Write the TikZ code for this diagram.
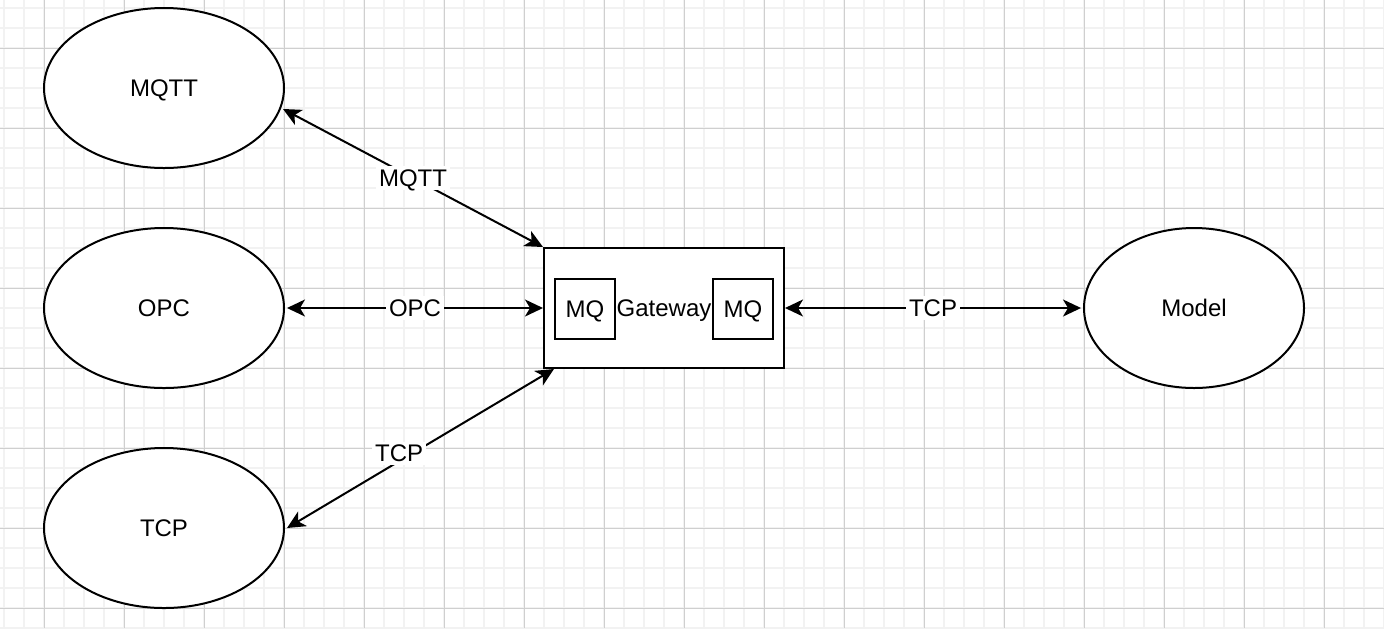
\documentclass[tikz,border=0pt]{standalone}
\usepackage{fontspec}
\setmainfont{Liberation Sans}
\usetikzlibrary{arrows.meta,shapes.geometric}

\begin{document}
\begin{tikzpicture}[x=0.5pt,y=-0.5pt,
    font=\fontsize{12pt}{14pt}\selectfont,
    every node/.style={text height=8.6pt,text depth=0pt},
    minorline/.style={draw=black!5,line width=1pt},
    majorline/.style={draw=black!19,line width=0.5pt},
    proto/.style={ellipse,draw,line width=1pt,fill=white,minimum width=120pt,minimum height=80pt,inner sep=0pt,outer sep=1.5pt},
    gwbox/.style={rectangle,draw,line width=1pt,fill=white,minimum width=120pt,minimum height=60pt,inner sep=0pt},
    mqbox/.style={rectangle,draw,line width=1pt,minimum width=30pt,minimum height=30pt,inner sep=0pt},
    link/.style={{Stealth[length=9pt,width=8.5pt,inset=2.5pt]}-{Stealth[length=9pt,width=8.5pt,inset=2.5pt]},line width=1pt},
    lbl/.style={fill=white,inner sep=1.5pt}]
   \useasboundingbox (0,0) rectangle (1384,628);
   \fill[white] (0,0) rectangle (1384,628);

   % background grid
   \foreach \x in {4,24,...,1384} \draw[minorline] (\x,0) -- (\x,628);
   \foreach \y in {8,28,...,628} \draw[minorline] (0,\y) -- (1384,\y);
   \foreach \x in {44,124,...,1384} \draw[majorline] (\x,0) -- (\x,628);
   \foreach \y in {48,128,...,628} \draw[majorline] (0,\y) -- (1384,\y);

   \node[proto] (mqtt) at (164,88) {MQTT};
   \node[proto] (opc) at (164,308) {OPC};
   \node[proto] (tcp) at (164,528) {TCP};
   \node[proto,minimum width=110pt] (model) at (1194,308) {Model};

   \node[gwbox] (gw) at (664,308) {};
   \node (gwtext) at (664,308) {Gateway};
   \node[mqbox] (mqL) at (585,309) {MQ};
   \node[mqbox] (mqR) at (743,309) {MQ};

   \path (mqtt.-10) edge[link] node[lbl] {MQTT} (gw.north west);
   \path (opc.east) edge[link] node[lbl] {OPC} (gw.west);
   \path (tcp.east) edge[link] node[lbl,pos=.42,yshift=4pt] {TCP} (gw.209);
   \path (gw.east) edge[link] node[lbl] {TCP} (model.west);
\end{tikzpicture}
\end{document}
